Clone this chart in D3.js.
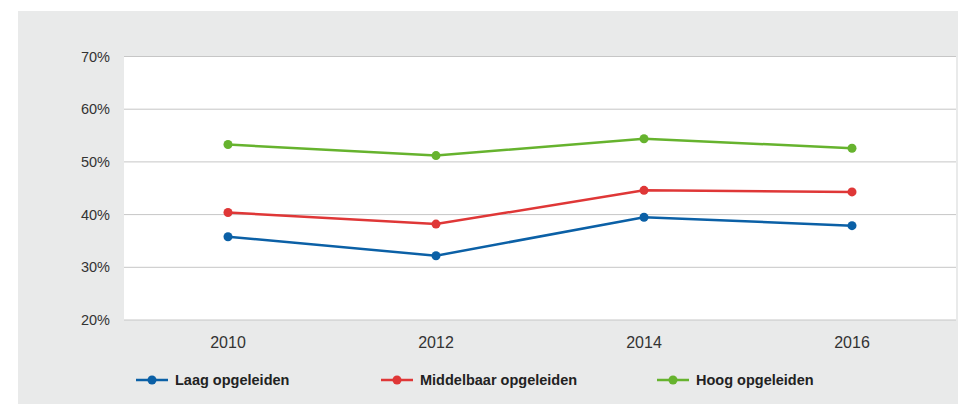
<!DOCTYPE html>
<html>
<head>
<meta charset="utf-8">
<script src="https://cdn.jsdelivr.net/npm/d3@7"></script>
<style>
  body { margin: 0; background: white; }
</style>
</head>
<body>
<div id="chart"></div>
<script>
const years = ["2010", "2012", "2014", "2016"];
const laag = [35.8, 32.2, 39.5, 37.9];
const middelbaar = [40.4, 38.2, 44.6, 44.3];
const hoog = [53.3, 51.2, 54.4, 52.6];
const yTicks = [20, 30, 40, 50, 60, 70];
const seriesNames = ["Laag opgeleiden", "Middelbaar opgeleiden", "Hoog opgeleiden"];
const colors = ["#0b60a6", "#df3737", "#66b32e"];

const width = 958, height = 404;
const plot = {left: 124, right: 956, top: 56.5, bottom: 320};

const svg = d3.select('#chart')
              .append('svg')
              .attr('width', width)
              .attr('height', height);

// grey panel
svg.append('rect')
   .attr('x', 18).attr('y', 11)
   .attr('width', width - 18).attr('height', height - 11)
   .attr('fill', '#e9eaea');

// white plot area
svg.append('rect')
   .attr('x', plot.left).attr('y', plot.top)
   .attr('width', plot.right - plot.left).attr('height', plot.bottom - plot.top)
   .attr('fill', 'white');

const x = d3.scaleBand()
            .domain(years)
            .range([plot.left, plot.right]);

const y = d3.scaleLinear()
            .domain([20, 70])
            .range([plot.bottom, plot.top]);

// gridlines
svg.append('g')
   .selectAll('line')
   .data(yTicks)
   .enter()
   .append('line')
   .attr('x1', plot.left).attr('x2', plot.right)
   .attr('y1', d => y(d)).attr('y2', d => y(d))
   .attr('stroke', '#c6c6c6')
   .attr('stroke-width', 1);

// y axis labels
const yAxis = svg.append('g')
   .attr('transform', `translate(${plot.left - 14},0)`)
   .call(d3.axisLeft(y).tickValues(yTicks).tickSize(0).tickPadding(0).tickFormat(d => d + '%'));
yAxis.select('.domain').remove();
yAxis.selectAll('text')
     .style('font-family', 'Liberation Sans, Arial, sans-serif')
     .style('font-size', '14.5px')
     .attr('fill', '#333');

// x axis labels
const xAxis = svg.append('g')
   .attr('transform', `translate(0,${plot.bottom + 17})`)
   .call(d3.axisBottom(x).tickSize(0).tickPadding(0));
xAxis.select('.domain').remove();
xAxis.selectAll('text')
     .style('font-family', 'Liberation Sans, Arial, sans-serif')
     .style('font-size', '16px')
     .attr('fill', '#333');

const series = [laag, middelbaar, hoog];
const line = d3.line()
               .x((d, i) => x(years[i]) + x.bandwidth() / 2)
               .y(d => y(d));

series.forEach((vals, s) => {
    svg.append('path')
       .attr('d', line(vals))
       .attr('fill', 'none')
       .attr('stroke', colors[s])
       .attr('stroke-width', 2.5);

    svg.selectAll(`.dot-${s}`)
       .data(vals)
       .enter()
       .append('circle')
       .attr('cx', (d, i) => x(years[i]) + x.bandwidth() / 2)
       .attr('cy', d => y(d))
       .attr('r', 4.5)
       .attr('fill', colors[s]);
});

// legend
const legendX = [136, 381, 657];
const legendY = 380;
seriesNames.forEach((name, i) => {
    const g = svg.append('g').attr('transform', `translate(${legendX[i]},${legendY})`);
    g.append('line')
     .attr('x1', 0).attr('x2', 32)
     .attr('y1', 0).attr('y2', 0)
     .attr('stroke', colors[i])
     .attr('stroke-width', 2.5);
    g.append('circle')
     .attr('cx', 16).attr('cy', 0)
     .attr('r', 4.5)
     .attr('fill', colors[i]);
    g.append('text')
     .attr('x', 39)
     .attr('y', 5)
     .text(name)
     .style('font-family', 'Liberation Sans, Arial, sans-serif')
     .style('font-size', '14.5px')
     .style('font-weight', 'bold')
     .attr('fill', '#222');
});
</script>
</body>
</html>
